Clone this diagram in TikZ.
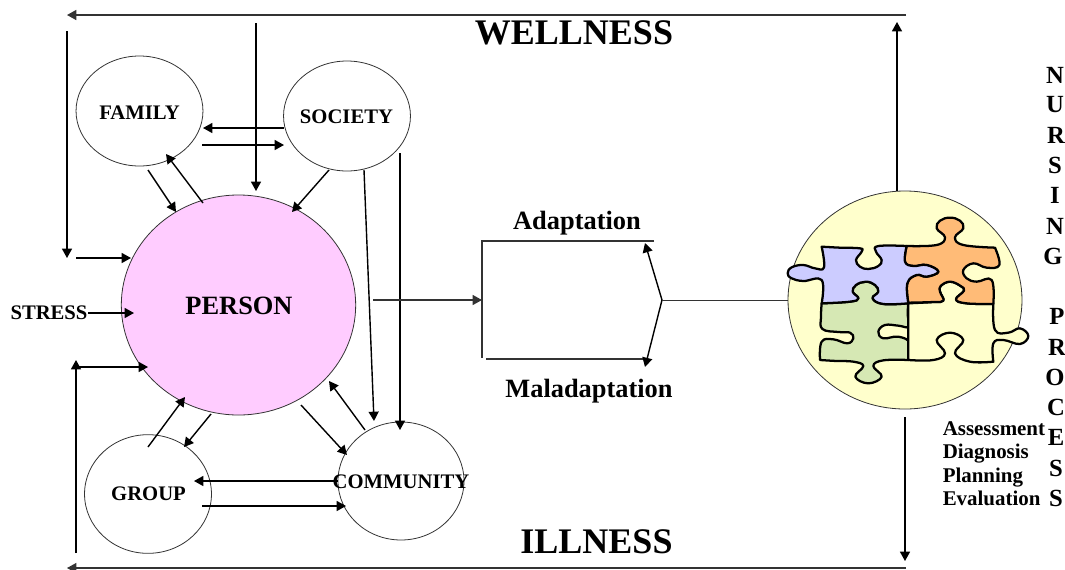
\documentclass[tikz,border=0pt]{standalone}
\usepackage{fontspec}
\setmainfont{Liberation Serif}
\usetikzlibrary{arrows.meta,shapes.geometric}
\definecolor{personpink}{HTML}{FFCCFF}
\definecolor{cream}{HTML}{FFFFCC}
\definecolor{pblue}{HTML}{CCCCFF}
\definecolor{porange}{HTML}{FFBB77}
\definecolor{pgreen}{HTML}{D6E8B4}
\definecolor{linegray}{HTML}{333333}
\tikzset{
  bub/.style={draw=black!80,line width=0.6pt,ellipse,inner sep=0pt,outer sep=0pt},
  arr/.style={-{Stealth[inset=0pt,length=7pt,width=7.5pt]},line width=1.05pt,black},
  thinarr/.style={-{Stealth[inset=0pt,length=7pt,width=7.5pt]},line width=0.85pt,linegray},
  plainl/.style={line width=0.85pt,linegray},
  lab/.style={font=\bfseries\fontsize{15.5}{17}\selectfont,inner sep=0pt},
  biglab/.style={font=\bfseries\fontsize{19.8}{22}\selectfont,inner sep=0pt},
  huge lab/.style={font=\bfseries\fontsize{27}{30}\selectfont,inner sep=0pt},
  vlet/.style={font=\bfseries\fontsize{18.5}{20}\selectfont,inner sep=0pt},
  steplab/.style={font=\bfseries\fontsize{15.7}{17}\selectfont,inner sep=0pt,anchor=base west},
  piece/.style={draw=black,line width=1.7pt,line join=round},
  sm/.style={smooth,tension=0.7}
}
\begin{document}
\begin{tikzpicture}[x=0.75pt,y=-0.75pt]
\useasboundingbox (0,0) rectangle (1065,569);
% bubbles
\node[bub,fill=personpink,minimum width=175.8pt,minimum height=165pt] (person) at (238.5,305) {};
\node[bub,minimum width=95.2pt,minimum height=82.5pt] (family) at (139.5,111) {};
\node[bub,minimum width=95.2pt,minimum height=82.5pt] (society) at (347,116) {};
\node[bub,minimum width=95.2pt,minimum height=89pt] (group) at (148,494) {};
\node[bub,minimum width=94.5pt,minimum height=88.5pt] (community) at (401,481) {};
\node[bub,fill=cream,minimum width=175.5pt,minimum height=163.5pt] (np) at (905,300) {};
% texts
\node[lab] (tfamily) at (139.5,113) {FAMILY};
\node[lab] (tsociety) at (346.5,117) {SOCIETY};
\node[lab] (tgroup) at (148.5,494) {GROUP};
\node[lab] (tcommunity) at (401,482) {COMMUNITY};
\node[biglab] (tperson) at (239,306) {PERSON};
\node[lab] (stress) at (49,312.5) {STRESS};
\node[biglab,anchor=base] (adapt) at (577,229) {Adaptation};
\node[biglab,anchor=base] (malad) at (589,397) {Maladaptation};
\node[huge lab] (well) at (574,33) {WELLNESS};
\node[huge lab] (ill) at (596.5,541.5) {ILLNESS};
% coordinates of free ends
\coordinate (wellR) at (906,15); \coordinate (wellL) at (67,15);
\coordinate (illR) at (906,568); \coordinate (illL) at (67,568);
\coordinate (dnLa) at (67,31); \coordinate (dnLb) at (67,258);
\coordinate (inLa) at (76,258); \coordinate (inLb) at (131,258);
\coordinate (dnMa) at (256,23); \coordinate (dnMb) at (256,191);
\coordinate (fsA) at (284,128); \coordinate (fsB) at (203,128);
\coordinate (fsC) at (202,145); \coordinate (fsD) at (284,145);
\coordinate (fpA) at (148,170); \coordinate (fpB) at (176,212);
\coordinate (pfA) at (203,203); \coordinate (pfB) at (166,154);
\coordinate (spA) at (329,170); \coordinate (spB) at (292,212);
\coordinate (scA) at (364,170); \coordinate (scB) at (374,421);
\coordinate (sdA) at (400,153); \coordinate (sdB) at (400,430);
\coordinate (strA) at (88,313); \coordinate (strB) at (134,313);
\coordinate (upA) at (76,553); \coordinate (upB) at (76,360);
\coordinate (inBa) at (76,367); \coordinate (inBb) at (148,367);
\coordinate (gpA) at (148,447); \coordinate (gpB) at (185,397);
\coordinate (pgA) at (211,414); \coordinate (pgB) at (184,447);
\coordinate (pcA) at (301,405); \coordinate (pcB) at (347,455);
\coordinate (cpA) at (365,430); \coordinate (cpB) at (329,381);
\coordinate (cgA) at (338,481); \coordinate (cgB) at (194,481);
\coordinate (gcA) at (202,506); \coordinate (gcB) at (346,506);
\coordinate (pbA) at (373,300); \coordinate (pbB) at (482,300);
\coordinate (brT) at (654,241); \coordinate (brTL) at (482,241);
\coordinate (brBL) at (482,358); \coordinate (brB) at (486,359);
\coordinate (brE) at (645,359);
\coordinate (tip) at (662,300);
\coordinate (adT) at (645,243); \coordinate (adB) at (645,367);
\coordinate (npUpA) at (897,191); \coordinate (npUpB) at (897,22);
\coordinate (npDnA) at (905,417); \coordinate (npDnB) at (905,561);
% wellness / illness lines
\draw[arr,linegray,line width=1.2pt] (wellR) -- (wellL);
\draw[thinarr] (illR) -- (illL);
\draw[arr] (dnLa) -- (dnLb);
\draw[arr] (inLa) -- (inLb);
\draw[arr] (dnMa) -- (dnMb);
\draw[arr] (fsA) -- (fsB);
\draw[arr] (fsC) -- (fsD);
\draw[arr] (fpA) -- (fpB);
\draw[arr] (pfA) -- (pfB);
\draw[arr] (spA) -- (spB);
\draw[arr] (scA) -- (scB);
\draw[arr] (sdA) -- (sdB);
\draw[arr] (strA) -- (strB);
\draw[arr] (upA) -- (upB);
\draw[arr] (inBa) -- (inBb);
\draw[arr] (gpA) -- (gpB);
\draw[arr] (pgA) -- (pgB);
\draw[arr] (pcA) -- (pcB);
\draw[arr] (cpA) -- (cpB);
\draw[arr] (cgA) -- (cgB);
\draw[arr] (gcA) -- (gcB);
% adaptation bracket
\draw[thinarr] (pbA) -- (pbB);
\draw[plainl] (brT) -- (brTL) -- (brBL);
\draw[plainl] (brB) -- (brE);
\draw[arr] (tip) -- (adT);
\draw[arr] (tip) -- (adB);
\draw[plainl,line width=0.6pt] (tip) -- (np.west |- tip);
\draw[arr] (npUpA) -- (npUpB);
\draw[arr] (npDnA) -- (npDnB);
% puzzle
\begin{scope}[shift={(770,180)},x=0.25pt,y=-0.25pt]
\filldraw[piece,fill=pgreen] plot[sm] coordinates {(155,370)(153,410)(157,447)(205,456)(240,458)(250,475)(232,490)(190,478)(155,485)(150,540)}
 -- plot[sm] coordinates {(150,540)(200,543)(250,545)(280,558)(256,590)(295,610)(335,590)(310,558)(340,541)(415,540)}
 -- plot[sm] coordinates {(415,540)(420,490)(385,470)(340,475)(325,455)(345,435)(385,437)(417,440)(413,405)(415,370)}
 -- plot[sm] coordinates {(415,370)(340,372)(308,355)(325,335)(315,315)(288,305)(258,315)(248,335)(265,355)(240,365)(155,370)}
 -- cycle;
\filldraw[piece,fill=cream] plot[sm] coordinates {(415,370)(490,366)(520,362)(510,335)(512,318)(540,305)(572,318)(582,332)(558,358)(590,370)(670,372)}
 -- plot[sm] coordinates {(670,372)(675,450)(715,458)(750,445)(775,468)(750,492)(700,480)(670,490)(670,545)}
 -- plot[sm] coordinates {(670,545)(600,545)(555,520)(580,480)(540,458)(500,480)(525,520)(490,540)(415,540)}
 -- cycle;
\filldraw[piece,fill=porange] plot[sm] coordinates {(410,198)(500,195)(525,172)(500,145)(510,122)(540,113)(570,122)(580,145)(555,172)(580,195)(675,203)}
 -- plot[sm] coordinates {(675,203)(688,255)(650,263)(610,250)(580,270)(590,295)(620,305)(665,300)(670,372)}
 -- plot[sm] coordinates {(670,372)(590,370)(558,358)(582,332)(572,318)(540,305)(512,318)(510,335)(520,362)(490,366)(415,368)}
 -- plot[sm] coordinates {(415,368)(412,310)(440,285)(470,290)(505,275)(470,255)(430,258)(405,245)(410,198)}
 -- cycle;
\filldraw[piece,fill=pblue] plot[sm] coordinates {(155,200)(210,203)(270,205)(275,215)(258,240)(270,260)(295,267)(325,258)(335,240)(318,215)(325,198)(410,198)}
 -- plot[sm] coordinates {(410,198)(405,245)(430,258)(470,255)(505,275)(470,290)(440,285)(412,310)(415,370)}
 -- plot[sm] coordinates {(415,370)(340,372)(308,355)(325,335)(315,315)(288,305)(258,315)(248,335)(265,355)(240,365)(155,370)}
 -- plot[sm] coordinates {(155,370)(155,300)(100,303)(65,295)(53,280)(65,262)(100,255)(135,265)(162,262)(155,200)}
 -- cycle;
\end{scope}
% nursing process letters
\foreach \n/\t/\xx/\yy in {a/N/1055/75,b/U/1055/105,c/R/1056/135,d/S/1055/165,e/I/1055/195,f/N/1055/226,g/G/1053/256,h/P/1057/316,i/R/1057/347,j/O/1055/377,k/C/1056/407,l/E/1056/437,m/S/1056/468,n/S/1056/498}
  \node[vlet] (let\n) at (\xx,\yy) {\t};
\node[steplab] (s1) at (942.5,435) {Assessment};
\node[steplab] (s2) at (942.5,458) {Diagnosis};
\node[steplab] (s3) at (942.5,482) {Planning};
\node[steplab] (s4) at (942.5,505) {Evaluation};
\end{tikzpicture}
\end{document}
